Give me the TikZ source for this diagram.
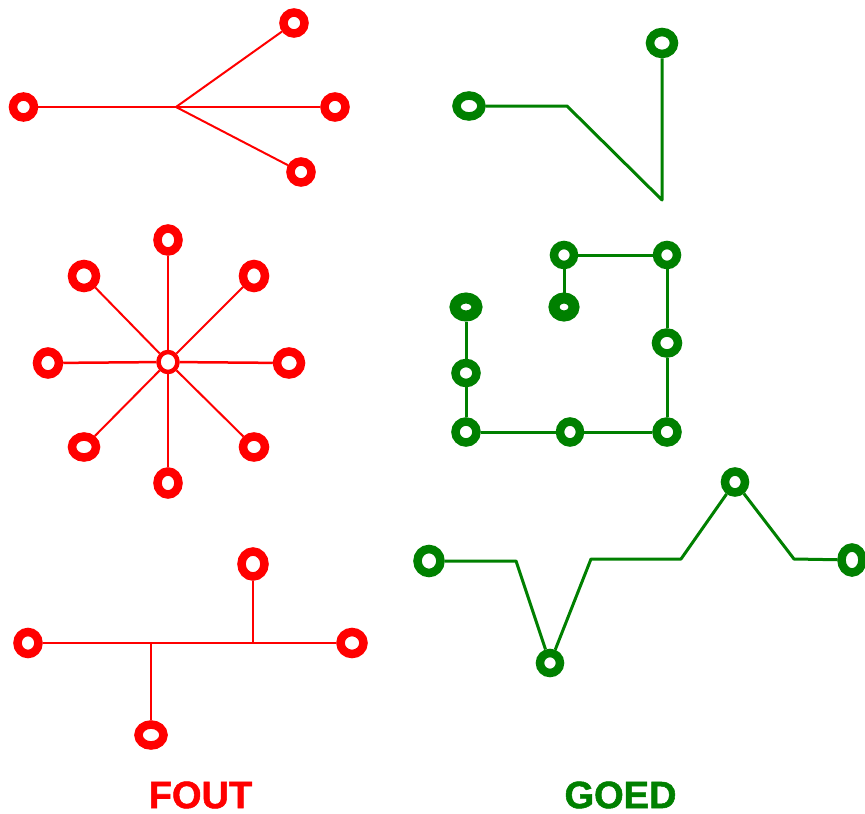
\documentclass[tikz,border=0pt]{standalone}
\usepackage{fontspec}
\setmainfont{Liberation Sans}
\newfontfamily\capfont[BoldFeatures={FakeBold=1.4}]{Liberation Sans}
\usetikzlibrary{shapes.geometric}
\definecolor{fout}{RGB}{255,0,0}
\definecolor{goed}{RGB}{0,128,0}
\tikzset{
  ring/.style={ellipse, draw, line width=8.5pt, inner sep=0pt,
               minimum width=21pt, minimum height=21pt},
  heavyring/.style={ring, line width=11pt, minimum width=21pt, minimum height=18pt},
  thinring/.style={ring, line width=4.5pt, minimum width=19pt, minimum height=20pt},
  redring/.style={ring, fout},
  greenring/.style={ring, goed},
  redwire/.style={fout, line width=2.5pt},
  greenwire/.style={goed, line width=3pt, line join=round},
  caption/.style={font=\capfont\bfseries\fontsize{38}{38}\selectfont, inner sep=0pt}
}
\begin{document}
\begin{tikzpicture}[x=1pt, y=-1pt]
\useasboundingbox (0,0) rectangle (865,814);

% --- wrong: fork from one point
\node[redring] (a1) at (23.5,107) {};
\node[redring] (a2) at (335,107) {};
\node[redring] (a3) at (294,23) {};
\node[redring] (a4) at (301,172) {};
\coordinate (ax) at (176,107);
\draw[redwire] (a1) -- (ax) -- (a2);
\draw[redwire, line width=2pt] (ax) -- (a3);
\draw[redwire, line width=2pt] (ax) -- (a4);

% --- right: single bent line
\node[greenring, minimum width=25pt, minimum height=21pt] (b1) at (469,106) {};
\node[greenring, minimum width=24pt, minimum height=22pt] (b2) at (662,43) {};
\coordinate (bk1) at (567,106);
\coordinate (bk2) at (662,200);
\draw[greenwire] (b1) -- (bk1) -- (bk2) -- (b2);

% --- wrong: star
\node[redring, thinring] (c0) at (168,362) {};
\node[redring, minimum height=23pt] (ct) at (168,240) {};
\node[redring, minimum height=23pt] (cb) at (168,483) {};
\node[redring, minimum width=22pt, minimum height=23pt] (cl) at (48,363) {};
\node[redring, minimum width=24pt, minimum height=23pt] (cr) at (289,363) {};
\node[redring, minimum width=24pt, minimum height=24pt] (ctl) at (84,276) {};
\node[redring, minimum width=22pt, minimum height=24pt] (ctr) at (254,276) {};
\node[redring, minimum width=24pt, minimum height=21pt] (cbl) at (84,447) {};
\node[redring, minimum width=22pt, minimum height=21pt] (cbr) at (254,447) {};
\draw[redwire] (c0) -- (ct);
\draw[redwire] (c0) -- (cb);
\draw[redwire] (c0) -- (cl);
\draw[redwire] (c0) -- (cr);
\draw[redwire, line width=2pt] (c0) -- (ctl);
\draw[redwire, line width=2pt] (c0) -- (ctr);
\draw[redwire, line width=2pt] (c0) -- (cbl);
\draw[redwire, line width=2pt] (c0) -- (cbr);

% --- right: square spiral
\node[greenring, heavyring, minimum width=22pt] (d1) at (466,307) {};
\node[greenring, minimum width=21pt, minimum height=20pt] (d2) at (466,373) {};
\node[greenring] (d3) at (466,432) {};
\node[greenring, minimum width=20pt] (d4) at (570,432) {};
\node[greenring] (d5) at (667,432) {};
\node[greenring, minimum width=22pt] (d6) at (667,343) {};
\node[greenring, minimum width=20pt, minimum height=20pt] (d7) at (667,255) {};
\node[greenring, minimum width=20pt, minimum height=20pt] (d8) at (564,255) {};
\node[greenring, heavyring, minimum width=20pt] (d9) at (564,307) {};
\draw[greenwire] (d1) -- (d2);
\draw[greenwire] (d2) -- (d3);
\draw[greenwire] (d3) -- (d4);
\draw[greenwire] (d4) -- (d5);
\draw[greenwire] (d5) -- (d6);
\draw[greenwire] (d6) -- (d7);
\draw[greenwire] (d7) -- (d8);
\draw[greenwire] (d8) -- (d9);

% --- right: zigzag line
\node[greenring, minimum width=23pt, minimum height=24pt] (e1) at (429,561) {};
\node[greenring, minimum width=20pt, minimum height=20pt] (e2) at (550,663) {};
\node[greenring, minimum width=20pt, minimum height=21pt] (e3) at (735,482) {};
\node[greenring, minimum width=21pt, minimum height=25pt] (e4) at (852,560) {};
\coordinate (ek1) at (516,561);
\coordinate (ek2) at (591,559);
\coordinate (ek3) at (681,559);
\coordinate (ek4) at (794,559);
\draw[greenwire] (e1) -- (ek1) -- (e2);
\draw[greenwire] (e2) -- (ek2) -- (ek3) -- (e3);
\draw[greenwire] (e3) -- (ek4) -- (e4);

% --- wrong: T-branches off one line
\node[redring, minimum width=21pt, minimum height=22pt] (f1) at (28,643) {};
\node[redring, minimum width=23pt, minimum height=22pt] (f2) at (352,643) {};
\node[redring, minimum width=23pt, minimum height=25pt] (f3) at (253,564) {};
\node[redring, minimum width=25pt, minimum height=21pt] (f4) at (151,735) {};
\coordinate (j1) at (151,643);
\coordinate (j2) at (253,643);
\draw[redwire] (f1) -- (f2);
\draw[redwire] (j2) -- (f3);
\draw[redwire] (j1) -- (f4);

% --- captions
\node[caption, text=fout] (tf) at (200.5,795) {FOUT};
\node[caption, text=goed] (tg) at (620.5,795) {GOED};
\end{tikzpicture}
\end{document}
